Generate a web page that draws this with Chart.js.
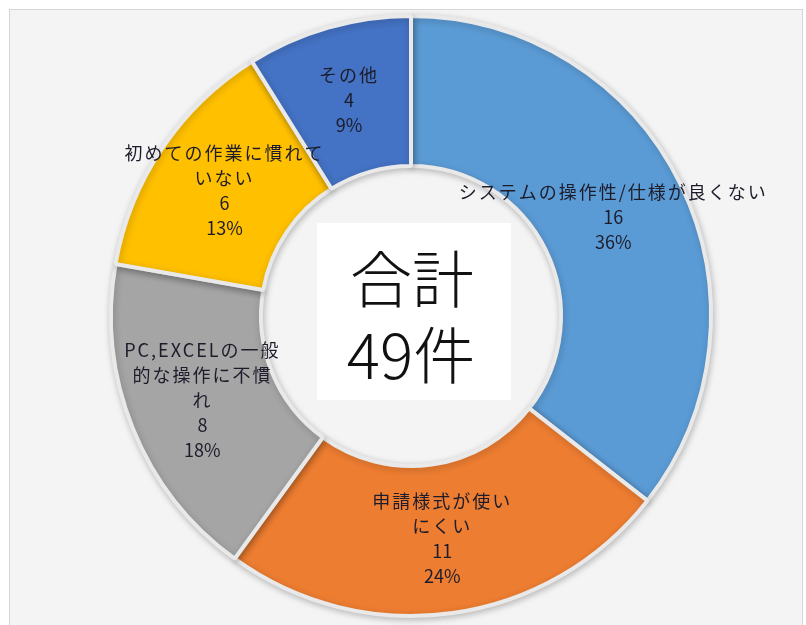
<!DOCTYPE html>
<html lang="ja">
<head>
<meta charset="utf-8">
<title>要因別件数</title>
<script src="https://cdn.jsdelivr.net/npm/chart.js@4/dist/chart.umd.min.js"></script>
<style>
  html, body { margin: 0; padding: 0; background: #ffffff; }
  #wrap {
    position: relative;
    width: 806px;
    height: 625px;
    overflow: hidden;
  }
  #frame {
    position: absolute;
    left: 9px; top: 9px;
    width: 792px; height: 630px;
    border: 1px solid #d6d6d6;
    background: #f4f4f4;
  }
  #chart { position: absolute; left: 0; top: 0; }
</style>
</head>
<body>
<div id="wrap">
  <div id="frame"></div>
  <canvas id="chart" width="806" height="625"></canvas>
</div>
<script>
// 回答の分類と件数
var categories = [
  ['システムの操作性/仕様が良くない'],
  ['申請様式が使い', 'にくい'],
  ['PC,EXCELの一般', '的な操作に不慣', 'れ'],
  ['初めての作業に慣れて', 'いない'],
  ['その他']
];
var counts = [16, 11, 8, 6, 4];
var sliceColors = ['#5b9bd5', '#ed7d31', '#a5a5a5', '#ffc000', '#4472c4'];
var centerLines = ['合計', '49件'];

var total = counts.reduce(function (a, b) { return a + b; }, 0);

var labelFont = '18px "Noto Sans CJK JP", sans-serif';
var centerFont = '200 62px "Noto Sans CJK JP Light", "Noto Sans CJK JP", sans-serif';

// soft shadow under the ring
var ringShadow = {
  id: 'ringShadow',
  beforeDatasetsDraw: function (chart) {
    var ctx = chart.ctx;
    ctx.save();
    ctx.shadowColor = 'rgba(0,0,0,0.22)';
    ctx.shadowBlur = 7;
    ctx.shadowOffsetX = 1;
    ctx.shadowOffsetY = 2;
  },
  afterDatasetsDraw: function (chart) {
    chart.ctx.restore();
  }
};

// slice labels: category / count / percent, centred in each slice
var sliceLabels = {
  id: 'sliceLabels',
  afterDatasetsDraw: function (chart) {
    var ctx = chart.ctx;
    var meta = chart.getDatasetMeta(0);
    ctx.save();
    ctx.shadowColor = 'transparent';
    ctx.font = labelFont;
    ctx.fillStyle = '#1c1c2a';
    ctx.textAlign = 'center';
    ctx.textBaseline = 'middle';
    meta.data.forEach(function (arc, i) {
      var p = arc.getProps(['x', 'y', 'startAngle', 'endAngle', 'innerRadius', 'outerRadius'], true);
      var mid = (p.startAngle + p.endAngle) / 2;
      var r = (p.innerRadius + p.outerRadius) / 2;
      var cx = p.x + Math.cos(mid) * r;
      var cy = p.y + Math.sin(mid) * r;
      var names = categories[i];
      var lines = names.concat([String(counts[i]), Math.round(counts[i] / total * 100) + '%']);
      var lh = 25;
      var top = cy - (lines.length - 1) * lh / 2;
      lines.forEach(function (t, k) {
        // category text is set wide, the numbers are tight
        ctx.letterSpacing = k < names.length ? '2px' : '0px';
        ctx.fillText(t, cx, top + k * lh);
      });
    });
    ctx.restore();
  }
};

// white box with the total in the hole
var centerTotal = {
  id: 'centerTotal',
  afterDatasetsDraw: function (chart) {
    var ctx = chart.ctx;
    var arc = chart.getDatasetMeta(0).data[0];
    var x = arc.x, y = arc.y;
    ctx.save();
    ctx.fillStyle = '#ffffff';
    ctx.fillRect(x - 94, y - 93, 194, 177);
    ctx.font = centerFont;
    ctx.fillStyle = '#111111';
    ctx.textAlign = 'center';
    ctx.textBaseline = 'middle';
    ctx.fillText(centerLines[0], x + 1, y - 37);
    ctx.fillText(centerLines[1], x, y + 39);
    ctx.restore();
  }
};

new Chart(document.getElementById('chart'), {
  type: 'doughnut',
  data: {
    labels: categories,
    datasets: [{
      data: counts,
      backgroundColor: sliceColors,
      borderColor: '#e9e9e9',
      borderWidth: 4
    }]
  },
  options: {
    responsive: false,
    animation: false,
    cutout: '50%',
    layout: { padding: { left: 109, right: 93, top: 14, bottom: 7 } },
    plugins: {
      legend: { display: false },
      tooltip: { enabled: false }
    },
    events: []
  },
  plugins: [ringShadow, centerTotal, sliceLabels]
});
</script>
</body>
</html>
